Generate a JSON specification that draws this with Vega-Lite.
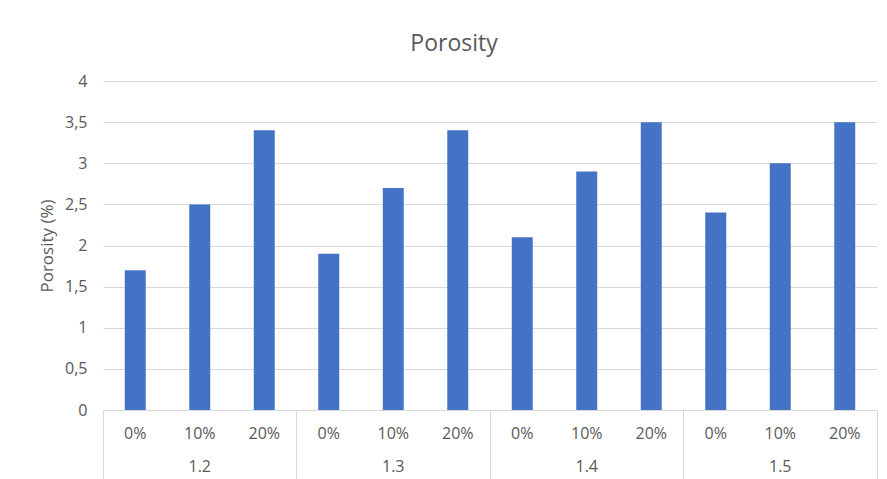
{
  "$schema": "https://vega.github.io/schema/vega-lite/v6.json",
  "autosize": "none",
  "width": 774,
  "height": 329,
  "padding": {"left": 103, "top": 81, "right": 10, "bottom": 69},
  "background": "white",
  "title": {
    "text": "Porosity",
    "fontSize": 23,
    "fontWeight": "normal",
    "font": "Open Sans",
    "color": "#595959",
    "anchor": "middle",
    "frame": "bounds",
    "dx": -4,
    "offset": 17
  },
  "data": {
    "values": [
      {"grp": "1.2", "sub": "0%", "porosity": 1.7},
      {"grp": "1.2", "sub": "10%", "porosity": 2.5},
      {"grp": "1.2", "sub": "20%", "porosity": 3.4},
      {"grp": "1.3", "sub": "0%", "porosity": 1.9},
      {"grp": "1.3", "sub": "10%", "porosity": 2.7},
      {"grp": "1.3", "sub": "20%", "porosity": 3.4},
      {"grp": "1.4", "sub": "0%", "porosity": 2.1},
      {"grp": "1.4", "sub": "10%", "porosity": 2.9},
      {"grp": "1.4", "sub": "20%", "porosity": 3.5},
      {"grp": "1.5", "sub": "0%", "porosity": 2.4},
      {"grp": "1.5", "sub": "10%", "porosity": 3.0},
      {"grp": "1.5", "sub": "20%", "porosity": 3.5}
    ]
  },
  "transform": [{"calculate": "datum.grp + '|' + datum.sub", "as": "key"}],
  "layer": [
    {
      "mark": {"type": "bar", "color": "#4472C4", "width": {"band": 0.325}},
      "encoding": {
        "x": {
          "field": "key",
          "type": "ordinal",
          "sort": null,
          "scale": {"paddingInner": 0, "paddingOuter": 0},
          "axis": {
            "title": null,
            "orient": "bottom",
            "labelAngle": 0,
            "labelExpr": "split(datum.value, '|')[1]",
            "labelFont": "Open Sans",
            "labelFontSize": 16,
            "labelColor": "#595959",
            "labelPadding": -46,
            "labelBaseline": "middle",
            "domainColor": "#d9d9d9",
            "bandPosition": 0,
            "tickSize": 69,
            "tickColor": {
              "condition": {"test": "split(datum.value, '|')[1] == '0%'", "value": "#d9d9d9"},
              "value": "transparent"
            },
            "grid": false
          }
        },
        "y": {
          "field": "porosity",
          "type": "quantitative",
          "scale": {"domain": [0, 4], "nice": false},
          "axis": {
            "title": "Porosity (%)",
            "titleFont": "Open Sans",
            "titleFontSize": 17,
            "titleFontWeight": "normal",
            "titleColor": "#595959",
            "titlePadding": 8,
            "values": [0, 0.5, 1, 1.5, 2, 2.5, 3, 3.5, 4],
            "labelExpr": "replace(toString(datum.value), '.', ',')",
            "labelFont": "Open Sans",
            "labelFontSize": 16,
            "labelColor": "#595959",
            "labelPadding": 16,
            "domain": false,
            "ticks": false,
            "gridColor": "#d9d9d9"
          }
        }
      }
    },
    {
      "mark": {"type": "bar", "opacity": 0, "width": {"band": 0.325}},
      "encoding": {
        "x": {
          "field": "key",
          "type": "ordinal",
          "sort": null,
          "axis": {
            "title": null,
            "orient": "bottom",
            "labelAngle": 0,
            "labelExpr": "split(datum.value, '|')[1] == '10%' ? split(datum.value, '|')[0] : ''",
            "labelFont": "Open Sans",
            "labelFontSize": 16,
            "labelColor": "#595959",
            "labelPadding": -13,
            "labelBaseline": "middle",
            "domain": false,
            "bandPosition": 1,
            "tickSize": 69,
            "tickColor": {
              "condition": {"test": "datum.value == '1.5|20%'", "value": "#d9d9d9"},
              "value": "transparent"
            },
            "grid": false
          }
        }
      }
    }
  ],
  "resolve": {"axis": {"x": "independent"}},
  "config": {"view": {"stroke": null}}
}
